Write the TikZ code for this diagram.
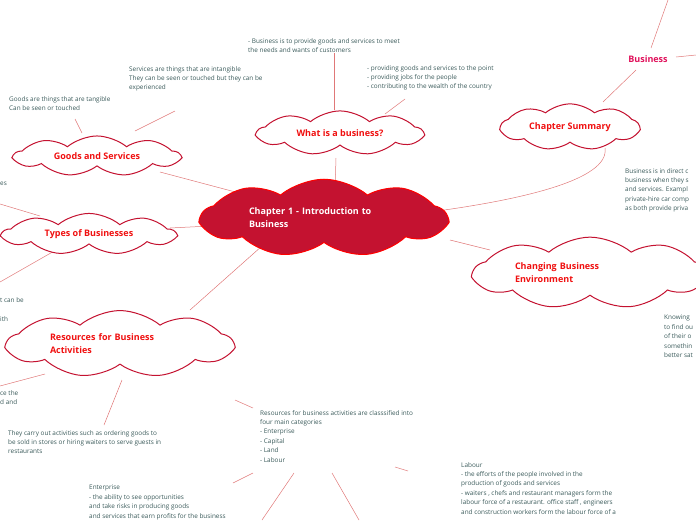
\documentclass[tikz,border=0pt]{standalone}
\usepackage{fontspec}
\setmainfont{Open Sans}
\usetikzlibrary{shapes.symbols}
\definecolor{crim}{HTML}{C41230}
\definecolor{ttl}{HTML}{F01010}
\definecolor{pinkb}{HTML}{E0105A}
\definecolor{txt}{HTML}{3A5A5A}
\definecolor{lnk}{HTML}{E07878}
\begin{document}
\begin{tikzpicture}[x=1pt,y=-1pt,
  cl/.style={cloud,cloud puffs=9,cloud puff arc=80,draw=crim,line width=1pt,fill=white,inner sep=0pt,align=left,text=ttl,font=\fontsize{9}{13}\selectfont\bfseries},
  note/.style={anchor=north west,inner sep=0pt,align=left,text=txt,font=\fontsize{6.4}{9.4}\selectfont},
  lk/.style={draw=lnk,line width=0.5pt}]
\useasboundingbox (0,0) rectangle (696,520);
\clip (0,0) rectangle (696,520);
% texts
\node[note] (t1) at (248,38) {- Business is to provide goods and services to meet\\the needs and wants of customers};
\node[note] (t2) at (367,65) {- providing goods and services to the point\\- providing jobs for the people\\- contributing to the wealth of the country};
\node[note] (t3) at (129,66) {Services are things that are intangible\\They can be seen or touched but they can be\\experienced};
\node[note] (t4) at (9,96) {Goods are things that are tangible\\Can be seen or touched};
\node[note] (t5) at (0,182) {es};
\node[note] (t6) at (0,297) {t can be};
\node[note] (t7) at (0,316) {ith};
\node[note] (t8) at (0,390) {ce the\\d and};
\node[note] (t9) at (625,168) {Business is in direct c\\business when they s\\and services. Exampl\\private-hire car comp\\as both provide priva};
\node[note] (t10) at (664,315) {Knowing\\to find ou\\of their o\\somethin\\better sat};
\node[note] (t11) at (8,430) {They carry out activities such as ordering goods to\\be sold in stores or hiring waiters to serve guests in\\restaurants};
\node[note] (t12) at (260,410) {Resources for business activities are classsified into\\four main categories\\- Enterprise\\- Capital\\- Land\\- Labour};
\node[note] (t13) at (461,462) {Labour\\- the efforts of the people involved in the\\production of goods and services\\- waiters , chefs and restaurant managers form the\\labour force of a restaurant. office staff , engineers\\and construction workers form the labour force of a};
\node[note] (t14) at (89,485) {Enterprise\\- the ability to see opportunities\\and take risks in producing goods\\and services that earn profits for the business};
\node[text=pinkb,font=\fontsize{9}{11}\selectfont\bfseries] (biz) at (648,59) {Business};
% connectors
\coordinate (c1) at (334,53); \coordinate (c2) at (405,99);
\draw[lk] (334,110) -- (c1);
\draw[lk] (385,114) -- (c2);
\draw[lk] (135,131) -- (175,111);
\draw[lk] (75,119) -- (82,133);
\draw[lk] (0,204) -- (40,216);
\draw[lk] (0,282) -- (56,250);
\draw[lk] (45,374) -- (0,386);
\draw[lk] (122,380) -- (104,425);
\draw[lk] (235,400) -- (253,408);
\draw[lk] (253,473) -- (233,483);
\draw[lk] (294,473) -- (262,520);
\draw[lk] (332,473) -- (359,520);
\draw[lk] (395,467) -- (408,471);
\draw[lk] (603,102) -- (636,70);
\draw[lk] (651,48) -- (668,0);
\draw[lk] (676,57) -- (696,55);
\draw[lk] (335,190) -- (336,158);
\draw[lk] (258,198) -- (160,172);
\draw[lk] (210,226) -- (170,228);
\draw[lk] (262,246) -- (190,310);
\draw[lk] (450,240) -- (490,250);
\draw[lk] (430,212) .. controls (520,200) and (610,180) .. (605,148);
% clouds
\node[cl,aspect=4.0,minimum width=165,minimum height=36] (what) at (340,133) {What is a business?};
\node[cl,aspect=3.4,minimum width=138,minimum height=36] (cs) at (570,127) {Chapter Summary};
\node[cl,aspect=4.6,minimum width=165,minimum height=32] (gs) at (97,156) {Goods and Services};
\node[cl,aspect=4.6,minimum width=172,minimum height=33] (tb) at (89,234) {Types of Businesses};
\node[cl,aspect=4.4,minimum width=225,minimum height=48,text width=140] (rb) at (120,344) {Resources for Business\\Activities};
\node[cl,aspect=4.4,minimum width=232,minimum height=48,text width=150] (cb) at (590,273) {Changing Business\\Environment};
\node[cl,aspect=3.9,minimum width=245,minimum height=58,fill=crim,draw=red,text=white,text width=150] (ch) at (324,218) {Chapter 1 - Introduction to\\Business};
\end{tikzpicture}
\end{document}
